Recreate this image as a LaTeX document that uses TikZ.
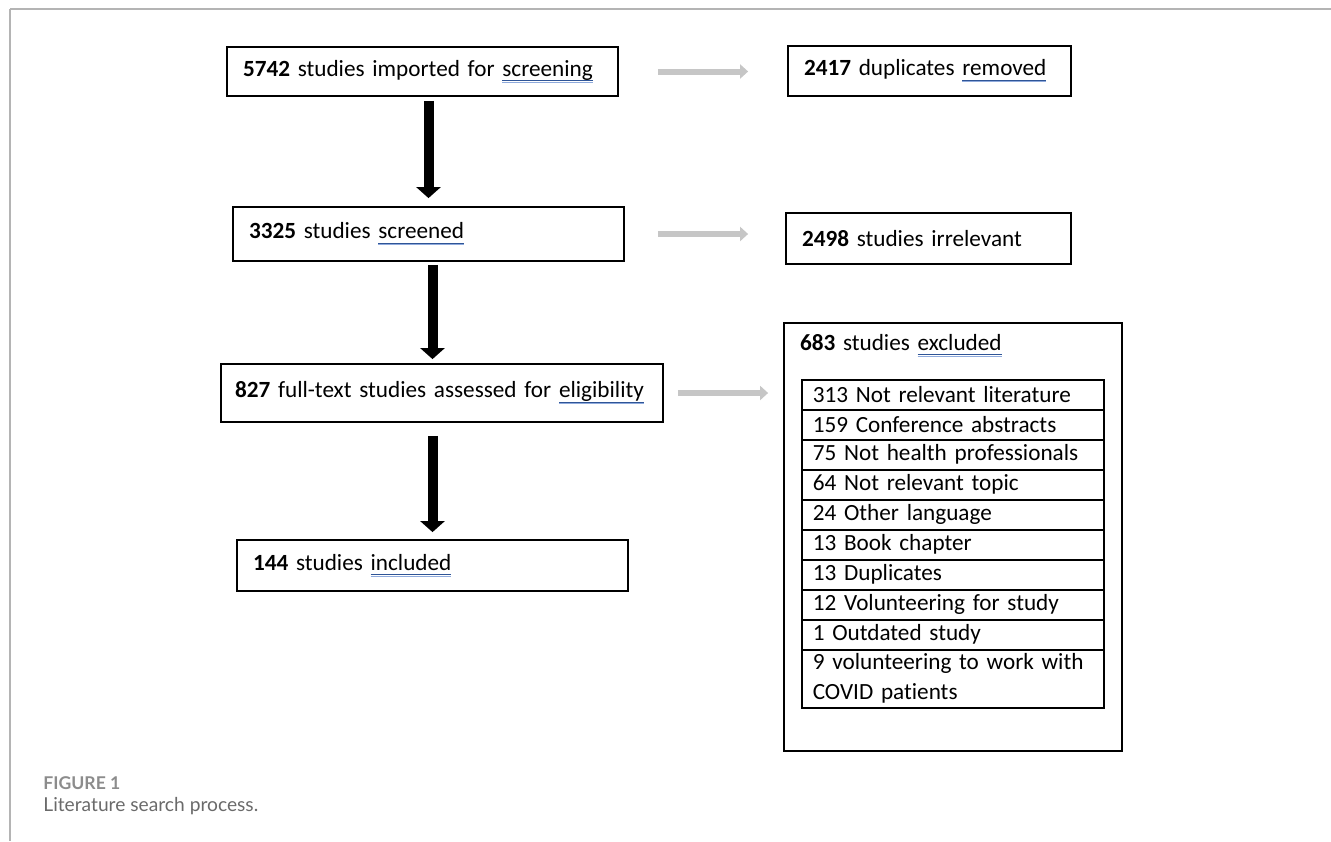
\documentclass[tikz,border=0pt]{standalone}
\usepackage{fontspec}
\setmainfont{Carlito}[Ligatures=NoCommon]
\newfontfamily\capfont{Lato}
\usetikzlibrary{arrows.meta}
\definecolor{ulblue}{HTML}{2F5597}
\definecolor{ullight}{HTML}{8FAADC}
\definecolor{framegray}{HTML}{B4B4B4}
\definecolor{arrowgray}{HTML}{C6C6C6}
\definecolor{capgray}{HTML}{8C8C8C}
\definecolor{captext}{HTML}{6A6A6A}
\newcommand\spellul[1]{\setbox0\hbox{#1}\rlap{\color{ulblue}\rule[-2.4pt]{\wd0}{0.5pt}}\rlap{\color{ullight}\rule[-3.3pt]{\wd0}{0.55pt}}\box0}
\begin{document}
\begin{tikzpicture}[x=0.5pt, y=-0.5pt, font=\fontsize{11.6}{15}\selectfont,
    box/.style={draw, line width=0.9pt, inner xsep=8pt, inner ysep=0pt, align=left},
    exclrow/.style={draw, line width=0.8pt, anchor=north west, inner xsep=5.5pt, inner ysep=0pt, text width=140pt, minimum height=15pt, align=left},
    flow/.style={line width=5pt, -{Triangle[width=12pt,length=5.5pt]}},
    side/.style={arrowgray, line width=3pt, -{Triangle[width=7pt,length=4pt]}},
    frame/.style={framegray, line width=1pt}]
  \useasboundingbox (0,0) rectangle (1331,841);
  \draw[frame] (10,9) -- (1331,9);
  \draw[frame] (10,9) -- (10,841);

  % main column
  \node[box, text width=179.5pt, minimum height=24.5pt] (b1) at (422.5,71.5) {\textbf{5742} studies imported for \spellul{screening}};
  \node[box, text width=179.5pt, minimum height=27pt] (b2) at (428.5,234) {\textbf{3325} studies \spellul{screened}};
  \node[box, inner xsep=7pt, text width=207pt, minimum height=29pt] (b3) at (442,393) {\mbox{\textbf{827} full-text studies assessed for \spellul{eligibility}}};
  \node[box, text width=179.5pt, minimum height=25.5pt] (b4) at (432.5,565.5) {\textbf{144} studies \spellul{included}};

  % side boxes
  \node[box, text width=125.5pt, minimum height=25pt] (r1) at (929.5,71) {\textbf{2417} duplicates \spellul{removed}};
  \node[box, text width=126.5pt, minimum height=25.5pt] (r2) at (928.5,238.5) {\textbf{2498} studies irrelevant};
  \node[box, text width=153pt, text height=13.5pt, text depth=200.5pt] (excl) at (953,537) {\textbf{683} studies \spellul{excluded}};
  \foreach \txt [count=\i] in {313 Not relevant literature, 159 Conference abstracts, 75 Not health professionals, 64 Not relevant topic, 24 Other language, 13 Book chapter, 13 Duplicates, 12 Volunteering for study, 1 Outdated study}
    \node[exclrow] (row\i) at (801,{379+30*(\i-1)}) {\txt};
  \node[exclrow, minimum height=29pt] (row10) at (801,649) {9 volunteering to work with\\COVID patients};

  % arrows
  \draw[flow, shorten <=2pt, shorten >=4pt] (b1.south -| b2.north) -- (b2.north);
  \draw[flow, shorten <=1.5pt, shorten >=2pt] (b2.south -| b4.north) -- (b3.north -| b4.north);
  \draw[flow, shorten <=6.5pt, shorten >=3.5pt] (b3.south -| b4.north) -- (b4.north);
  \draw[side, shorten <=19.5pt, shorten >=19.5pt] (b1.east) -- (b1.east -| r1.west);
  \draw[side, shorten <=16.5pt, shorten >=18.5pt] (b2.east) -- (b2.east -| r2.west);
  \draw[side, shorten <=7pt, shorten >=7.5pt] (b3.east) -- (b3.east -| excl.west);

  % caption
  \node[anchor=west, inner sep=0pt, font=\capfont\bfseries\fontsize{8.8}{10}\selectfont, text=capgray] (fignum) at (43,783) {FIGURE 1};
  \node[anchor=west, inner sep=0pt, font=\capfont\fontsize{9.6}{12}\selectfont, text=captext] (caption) at (43,806) {Literature search process.};
\end{tikzpicture}
\end{document}
